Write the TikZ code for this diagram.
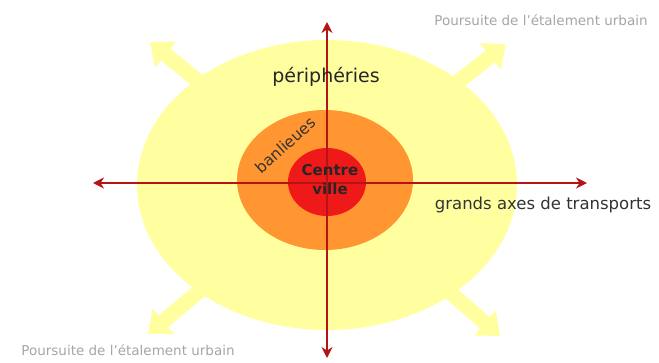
\documentclass[tikz,border=0pt]{standalone}
\usepackage{fontspec}
\setmainfont{DejaVu Sans}
\usetikzlibrary{arrows.meta,shapes.geometric}
\definecolor{periyellow}{RGB}{255,255,160}
\definecolor{banorange}{RGB}{255,150,50}
\definecolor{centred}{RGB}{240,25,25}
\definecolor{axisred}{RGB}{180,20,20}
\tikzset{
    zone/.style={ellipse, draw=none, inner sep=0pt},
    axis/.style={axisred, line width=2.6pt, {Stealth[length=11pt,width=11pt]}-{Stealth[length=11pt,width=11pt]}},
    spread/.style={periyellow, line width=15pt, -{Triangle[length=20pt,width=32pt]}},
    note/.style={font=\fontsize{13.5}{14}\selectfont, text=gray!70, inner sep=0pt}
}
\begin{document}
\begin{tikzpicture}[x=1pt, y=-1pt]
    \useasboundingbox[fill=white] (0,0) rectangle (659,362);

    % Urban spread arrows (behind the zones)
    \coordinate (hub) at (327,185);
    \foreach \name/\x/\y in {nw/150/42, ne/506/44, sw/148/334, se/500/336} {
        \coordinate (\name) at (\x,\y);
        \draw[spread] (hub) -- (\name);
    }

    % Concentric zones
    \node[zone, fill=periyellow, minimum width=380pt, minimum height=290pt] (peri) at (327,185) {};
    \node[zone, fill=banorange, minimum width=176pt, minimum height=140pt] (banl) at (325,180) {};
    \node[zone, fill=centred, minimum width=78pt, minimum height=68pt] (centre) at (327,182) {};

    % Transport axes
    \coordinate (axW) at (93,183);
    \coordinate (axE) at (587,183);
    \coordinate (axN) at (327,22);
    \coordinate (axS) at (327,358);
    \draw[axis] (axW) -- (axE);
    \draw[axis] (axN) -- (axS);

    % Labels
    \node[font=\fontsize{19}{20}\selectfont, text=black!85, inner sep=0pt] (lperi) at (326,77) {périphéries};
    \node[font=\fontsize{15.5}{16}\selectfont, text=black!80, rotate=42, inner sep=0pt] (lbanl) at (285,145) {banlieues};
    \node[font=\bfseries\fontsize{15}{19}\selectfont, text=black!85, align=center, inner sep=0pt] (lcentre) at (330,180) {Centre\\ville};
    \node[font=\fontsize{16.5}{17}\selectfont, text=black!80, inner sep=0pt] (laxes) at (543,205) {grands axes de transports};
    \node[note] (ltop) at (541,20) {Poursuite de l'étalement urbain};
    \node[note] (lbot) at (128,350) {Poursuite de l'étalement urbain};
\end{tikzpicture}
\end{document}
